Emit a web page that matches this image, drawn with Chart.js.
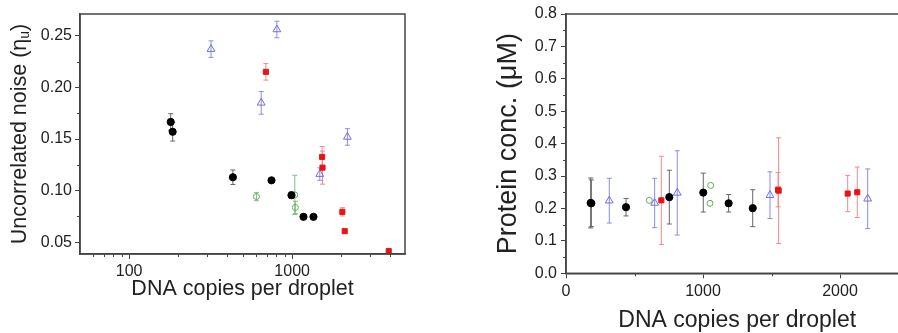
<!DOCTYPE html>
<html>
<head>
<meta charset="utf-8">
<title>Noise and protein concentration vs DNA copies</title>
<script src="https://cdn.jsdelivr.net/npm/chart.js"></script>
<style>
  html, body { margin: 0; padding: 0; background: white; overflow: hidden; }
  body { width: 898px; height: 333px; position: relative; }
  .panel { position: absolute; top: 0; height: 333px; }
  #left { left: 0; width: 450px; }
  #right { left: 450px; width: 470px; }
</style>
</head>
<body>
<div class="panel" id="left"><canvas id="noise"></canvas></div>
<div class="panel" id="right"><canvas id="protein"></canvas></div>
<script>
// left panel: uncorrelated noise vs DNA copies (log x)
const noiseBlackX = [180, 185, 433, 747, 990, 1173, 1351];
const noiseBlackY = [0.1665, 0.157, 0.113, 0.110, 0.0956, 0.0747, 0.0747];
const noiseBlackErr = [0.008, 0.009, 0.007, 0.002, 0.003, 0.002, 0.002];
const noiseRedX = [690, 1527, 1535, 2032, 2100, 3909];
const noiseRedY = [0.215, 0.1327, 0.1223, 0.0795, 0.0608, 0.0415];
const noiseRedErr = [0.008, 0.010, 0.016, 0.004, 0.002, 0.001];
const noiseBlueX = [318, 646, 806, 1477, 2181];
const noiseBlueY = [0.237, 0.185, 0.256, 0.116, 0.152];
const noiseBlueErr = [0.008, 0.011, 0.008, 0.006, 0.008];
const noiseGreenX = [604, 1038, 1046];
const noiseGreenY = [0.0943, 0.0959, 0.0837];
const noiseGreenErr = [0.004, 0.019, 0.006];

// right panel: protein concentration vs DNA copies
const protBlackX = [180, 185, 438, 754, 1002, 1187, 1363];
const protBlackY = [0.217, 0.216, 0.204, 0.235, 0.249, 0.216, 0.201];
const protBlackErr = [0.077, 0.072, 0.027, 0.083, 0.060, 0.027, 0.057];
const protRedX = [696, 1548, 1552, 2056, 2126];
const protRedY = [0.225, 0.258, 0.255, 0.246, 0.250];
const protRedErr = [0.136, 0.053, 0.163, 0.056, 0.078];
const protBlueX = [316, 647, 812, 1489, 2202];
const protBlueY = [0.224, 0.217, 0.248, 0.241, 0.230];
const protBlueErr = [0.069, 0.076, 0.130, 0.072, 0.092];
const protGreenX = [608, 1051, 1056];
const protGreenY = [0.225, 0.216, 0.271];

// tick values
const noiseXMajor = [100, 1000];
const noiseXMinor = [60, 70, 80, 90, 200, 300, 400, 500, 600, 700, 800, 900, 2000, 3000, 4000];
const noiseYMajor = [0.05, 0.10, 0.15, 0.20, 0.25];
const noiseYMinor = [0.075, 0.125, 0.175, 0.225];
const protXMajor = [0, 1000, 2000];
const protXMinor = [500, 1500, 2500];
const protYMinor = [0.05, 0.15, 0.25, 0.35, 0.45, 0.55, 0.65, 0.75];

const FONT = "'Liberation Sans', Arial, sans-serif";
const AXIS = '#444';
const TEXT = '#222';

const pts = (xs, ys) => xs.map((x, i) => ({x, y: ys[i]}));

const errorBars = {
  id: 'errorBars',
  beforeDatasetsDraw(chart) {
    const {ctx, scales: {x, y}} = chart;
    chart.data.datasets.forEach(ds => {
      if (!ds.err) return;
      ctx.save();
      ctx.strokeStyle = ds.errColor;
      ctx.lineWidth = 1;
      ctx.beginPath();
      ds.data.forEach((p, i) => {
        const e = ds.err[i];
        const px = x.getPixelForValue(p.x);
        const top = y.getPixelForValue(p.y + e);
        const bot = y.getPixelForValue(p.y - e);
        ctx.moveTo(px, top); ctx.lineTo(px, bot);
        ctx.moveTo(px - 2.5, top); ctx.lineTo(px + 2.5, top);
        ctx.moveTo(px - 2.5, bot); ctx.lineTo(px + 2.5, bot);
      });
      ctx.stroke();
      ctx.restore();
    });
  }
};

// box round the plot + short minor ticks
const frame = {
  id: 'frame',
  afterDraw(chart, args, opts) {
    const {ctx, chartArea: a, scales: {x, y}} = chart;
    ctx.save();
    ctx.strokeStyle = AXIS;
    ctx.lineWidth = 1.5;
    ctx.strokeRect(a.left, a.top, a.right - a.left, a.bottom - a.top);
    ctx.lineWidth = 1;
    ctx.beginPath();
    (opts.minorX || []).forEach(v => {
      const px = Math.round(x.getPixelForValue(v)) + 0.5;
      ctx.moveTo(px, a.bottom); ctx.lineTo(px, a.bottom + 3);
    });
    (opts.minorY || []).forEach(v => {
      const py = Math.round(y.getPixelForValue(v)) + 0.5;
      ctx.moveTo(a.left, py); ctx.lineTo(a.left - 3, py);
    });
    ctx.stroke();
    ctx.restore();
  }
};

// rotated y title with a subscript (scale titles can't do subscripts)
const yTitle = {
  id: 'yTitle',
  afterDraw(chart, args, opts) {
    if (!opts.text) return;
    const {ctx, chartArea: a} = chart;
    const big = `${opts.size}px ${FONT}`;
    const small = `${opts.subSize}px ${FONT}`;
    ctx.save();
    ctx.font = big;
    const w1 = ctx.measureText(opts.text).width;
    const w3 = ctx.measureText(opts.tail).width;
    ctx.font = small;
    const w2 = ctx.measureText(opts.sub).width;
    ctx.translate(opts.x, (a.top + a.bottom) / 2);
    ctx.rotate(-Math.PI / 2);
    ctx.fillStyle = TEXT;
    ctx.textBaseline = 'middle';
    ctx.textAlign = 'left';
    let cx = -(w1 + w2 + w3) / 2;
    ctx.font = big; ctx.fillText(opts.text, cx, 0); cx += w1;
    ctx.font = small; ctx.fillText(opts.sub, cx, 5); cx += w2;
    ctx.font = big; ctx.fillText(opts.tail, cx, 0);
    ctx.restore();
  }
};

function series(xs, ys, err, style) {
  return Object.assign({data: pts(xs, ys), err, clip: false}, style);
}

const black = {pointStyle: 'circle', pointRadius: 3.6, backgroundColor: '#000', borderColor: '#000', borderWidth: 1, errColor: '#666'};
const red = {pointStyle: 'rect', pointRadius: 3.6, backgroundColor: '#e81414', borderColor: '#e81414', borderWidth: 1, errColor: '#f08a8a'};
const blue = {pointStyle: 'triangle', pointRadius: 4.5, backgroundColor: 'rgba(0,0,0,0)', borderColor: '#6e6ee6', borderWidth: 1, errColor: '#8c8cec'};
const green = {pointStyle: 'circle', pointRadius: 3, backgroundColor: 'rgba(0,0,0,0)', borderColor: '#5cae5c', borderWidth: 1, errColor: '#80c080'};

function axis(extra) {
  return Object.assign({
    border: {color: AXIS, width: 1.5},
    grid: {drawOnChartArea: false, color: AXIS, tickLength: 5, tickWidth: 1}
  }, extra);
}

Chart.defaults.font.family = FONT;
Chart.defaults.color = TEXT;

new Chart(document.getElementById('noise'), {
  type: 'scatter',
  data: {
    datasets: [
      series(noiseBlackX, noiseBlackY, noiseBlackErr, black),
      series(noiseRedX, noiseRedY, noiseRedErr, red),
      series(noiseBlueX, noiseBlueY, noiseBlueErr, blue),
      series(noiseGreenX, noiseGreenY, noiseGreenErr, green)
    ]
  },
  options: {
    responsive: true,
    maintainAspectRatio: false,
    animation: false,
    layout: {padding: {top: 14, right: 45, left: 0, bottom: 0}},
    plugins: {
      legend: {display: false},
      tooltip: {enabled: false},
      frame: {minorX: noiseXMinor, minorY: noiseYMinor},
      yTitle: {text: 'Uncorrelated noise (\u03b7', sub: 'u', tail: ')', size: 21.5, subSize: 14, x: 20}
    },
    scales: {
      x: axis({
        type: 'logarithmic',
        min: 50,
        max: 4920,
        afterBuildTicks: s => { s.ticks = noiseXMajor.map(v => ({value: v})); },
        afterFit: s => { s.height = 79; },
        ticks: {font: {size: 16}, padding: 3, callback: v => String(v)},
        title: {display: true, text: 'DNA copies per droplet', font: {size: 21.5}, padding: {top: 0, bottom: 31}}
      }),
      y: axis({
        min: 0.0387,
        max: 0.271,
        afterBuildTicks: s => { s.ticks = noiseYMajor.map(v => ({value: v})); },
        afterFit: s => { s.width = 80; },
        ticks: {font: {size: 16}, padding: 3, callback: v => v.toFixed(2)}
      })
    }
  },
  plugins: [errorBars, frame, yTitle]
});

new Chart(document.getElementById('protein'), {
  type: 'scatter',
  data: {
    datasets: [
      series(protBlackX, protBlackY, protBlackErr, black),
      series(protRedX, protRedY, protRedErr, red),
      series(protBlueX, protBlueY, protBlueErr, blue),
      series(protGreenX, protGreenY, null, green)
    ]
  },
  options: {
    responsive: true,
    maintainAspectRatio: false,
    animation: false,
    layout: {padding: {top: 14, right: 11.5, left: 0, bottom: 0}},
    plugins: {
      legend: {display: false},
      tooltip: {enabled: false},
      frame: {minorX: protXMinor, minorY: protYMinor}
    },
    scales: {
      x: axis({
        min: 0,
        max: 2500,
        afterBuildTicks: s => { s.ticks = protXMajor.map(v => ({value: v})); },
        afterFit: s => { s.height = 59.7; },
        ticks: {font: {size: 16}, padding: 4, callback: v => String(v)},
        title: {display: true, text: 'DNA copies per droplet', font: {size: 23, lineHeight: 1}, padding: {top: 0, bottom: 1}}
      }),
      y: axis({
        min: 0,
        max: 0.8,
        afterFit: s => { s.width = 116; },
        ticks: {font: {size: 16}, padding: 4, stepSize: 0.1, callback: v => v.toFixed(1)},
        title: {display: true, text: 'Protein conc. (\u03bcM)', font: {size: 27}, padding: {top: 42, bottom: 0}}
      })
    }
  },
  plugins: [errorBars, frame]
});
</script>
</body>
</html>
